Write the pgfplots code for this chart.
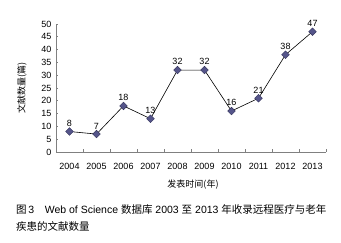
\documentclass[border=0pt]{standalone}
\usepackage{pgfplots}
\pgfplotsset{compat=1.18}
\usepackage{fontspec}
\setmainfont{Liberation Sans}
\newfontfamily\cjk{Noto Sans CJK SC}
\definecolor{mk}{HTML}{55558A}
\definecolor{mkd}{HTML}{33335A}
\definecolor{ax}{HTML}{808080}
\begin{document}
\begin{tikzpicture}
\path[use as bounding box] (0,0) rectangle (341bp,243bp);
\begin{axis}[
  at={(56bp,91bp)}, anchor=south west,
  scale only axis, width=270bp, height=128bp,
  xmin=0, xmax=10, ymin=0, ymax=50,
  axis lines=left, axis line style={-, ax, line width=0.8bp},
  xtick={0.5,1.5,...,9.5},
  xticklabels={2004,2005,2006,2007,2008,2009,2010,2011,2012,2013},
  minor xtick={0,1,...,10},
  ytick={0,5,...,50},
  major x tick style={draw=none},
  minor x tick style={ax, line width=0.6bp},
  y tick style={ax, line width=0.6bp},
  minor tick length=2.5bp, major tick length=2.5bp,
  tick align=inside,
  tick label style={font=\fontsize{9bp}{10bp}\selectfont},
  /pgf/number format/assume math mode=true,
  xticklabel style={yshift=-8bp},
  yticklabel style={xshift=-1bp},
  nodes near coords,
  nodes near coords style={font=\fontsize{9bp}{10bp}\selectfont, anchor=south, yshift=1.5bp},
  clip=false,
]
\addplot[black, line width=0.6bp, mark=square*, mark size=2.7bp,
  mark options={rotate=45, fill=mk, draw=mkd, line width=0.4bp}]
  coordinates {(0.5,8) (1.5,7) (2.5,18) (3.5,13) (4.5,32) (5.5,32) (6.5,16) (7.5,21) (8.5,38) (9.5,47)};
\end{axis}
\node[rotate=90, font=\cjk\fontsize{9bp}{10bp}\selectfont] at (22bp,155bp) {文献数量(篇)};
\node[font=\cjk\fontsize{9bp}{10bp}\selectfont] at (193bp,58bp) {发表时间(年)};
\node[anchor=west, inner sep=0pt, font=\fontsize{10.5bp}{12bp}\selectfont] at (16bp,33bp) {{\cjk 图}\,3\hspace{1em}Web of Science {\cjk 数据库} 2003 {\cjk 至} 2013 {\cjk 年收录远程医疗与老年}};
\node[anchor=west, inner sep=0pt, font=\cjk\fontsize{10.5bp}{12bp}\selectfont] at (16bp,17bp) {疾患的文献数量};
\end{tikzpicture}
\end{document}
